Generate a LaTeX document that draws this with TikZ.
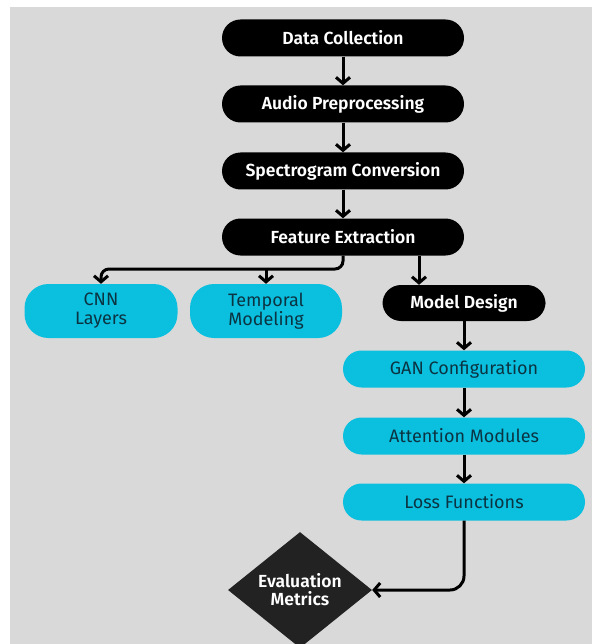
\documentclass[tikz,border=0pt]{standalone}
\usepackage{fontspec}
\setmainfont{Fira Sans}[BoldFont={Fira Sans SemiBold}]
\usetikzlibrary{arrows.meta,shapes.geometric}
\definecolor{bggray}{HTML}{D9D9D9}
\definecolor{pillcyan}{HTML}{0BBFDF}
\definecolor{pilltext}{HTML}{0B3442}
\definecolor{darkdiamond}{HTML}{222222}
\tikzset{
  stage/.style={rounded corners=18.5pt,fill=black,text=white,minimum width=242pt,minimum height=37pt,font=\fontsize{17.5}{19}\selectfont\bfseries},
  substage/.style={rounded corners=18.5pt,fill=pillcyan,text=pilltext,minimum width=242pt,minimum height=37pt,font=\fontsize{18}{19}\selectfont,align=center},
  flow/.style={->,line width=3pt,>={Straight Barb[length=6pt,width=14pt]}},
}

\begin{document}
\begin{tikzpicture}[x=1pt,y=-1pt]
\useasboundingbox (0,0) rectangle (592,644);
\fill[bggray] (10,7) rectangle (592,644);
% main column
\node (dc) [stage] at (343,38) {Data Collection};
\node (ap) [stage] at (343,104) {Audio Preprocessing};
\node (sc) [stage] at (343,171) {Spectrogram Conversion};
\node (fe) [stage] at (343,237) {Feature Extraction};
%
\node (cnn) [substage,minimum width=153pt,minimum height=54pt,rounded corners=24pt] at (101,311) {CNN\\Layers};
\node (tm) [substage,minimum width=152pt,minimum height=54pt,rounded corners=24pt] at (266,311) {Temporal\\Modeling};
\node (md) [stage,minimum width=163pt,minimum height=36pt] at (464,303) {Model Design};
%
\node (gan) [substage] at (464,369) {GAN Configuration};
\node (att) [substage] at (464,436) {Attention Modules};
\node (loss) [substage] at (464,502) {Loss Functions};
\node (ev) [diamond,fill=darkdiamond,text=white,inner sep=0pt,minimum width=144pt,minimum height=114pt,align=center,font=\fontsize{17.5}{18}\selectfont\bfseries] at (300,590) {Evaluation\\Metrics};
%
\coordinate (split) at (343,269);
\draw[flow] (dc) -- (ap);
\draw[flow] (ap) -- (sc);
\draw[flow] (sc) -- (fe);
\draw[flow,rounded corners=8pt] (fe.south) -- (split) -| (cnn.north);
\draw[flow] (tm.north |- split) -- (tm.north);
\draw[flow] ([xshift=76pt]fe.south) -- ([xshift=76pt]fe.south |- md.north);
\draw[flow] (md) -- (gan);
\draw[flow] (gan) -- (att);
\draw[flow] (att) -- (loss);
\draw[flow,rounded corners=14pt] (loss.south) |- (ev.east);
\end{tikzpicture}
\end{document}
